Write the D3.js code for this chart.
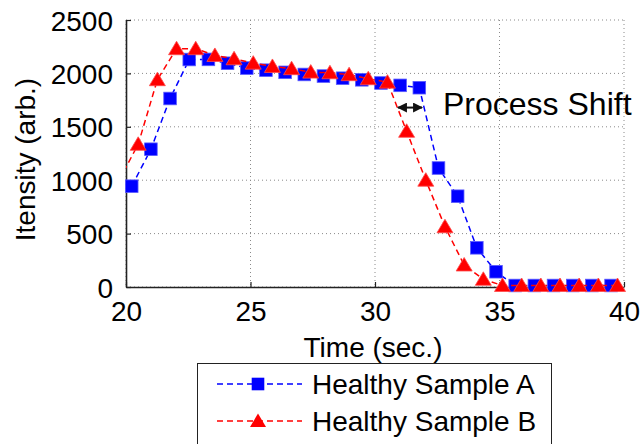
<!DOCTYPE html>
<html>
<head>
<meta charset="utf-8">
<script src="https://cdn.jsdelivr.net/npm/d3@7"></script>
<style>
  body { margin: 0; background: #fff; }
  text { font-family: "Liberation Sans", Arial, sans-serif; }
</style>
</head>
<body>
<svg width="642" height="444"></svg>
<script>
// values
const timeA = [20.23, 21.00, 21.77, 22.54, 23.31, 24.08, 24.85, 25.62, 26.39, 27.16, 27.93, 28.70, 29.47,
  30.24, 31.01, 31.78, 32.55, 33.32, 34.09, 34.86, 35.63, 36.40, 37.17, 37.94, 38.71, 39.48];
const sampleA = [944, 1290, 1765, 2130, 2131, 2095, 2050, 2030, 2010, 1990, 1975, 1955, 1940,
  1910, 1888, 1866, 1114, 850, 367, 143, 14, 14, 14, 14, 14, 14];

const timeB = [19.72, 20.49, 21.26, 22.03, 22.80, 23.57, 24.34, 25.11, 25.88, 26.65, 27.42, 28.19, 28.96,
  29.73, 30.50, 31.27, 32.04, 32.81, 33.58, 34.35, 35.12, 35.89, 36.66, 37.43, 38.20, 38.97, 39.74];
const sampleB = [1000, 1336, 1941, 2231, 2231, 2168, 2137, 2096, 2065, 2044, 2012, 2006, 1988,
  1950, 1918, 1458, 1000, 564, 206, 72, 14, 14, 14, 14, 14, 14, 14];

const xTicks = [20, 25, 30, 35, 40];
const yTicks = [0, 500, 1000, 1500, 2000, 2500];
const seriesNames = ["Healthy Sample A", "Healthy Sample B"];
const shiftArrow = [30.92, 31.89]; // time span of the "Process Shift" arrow
const shiftLevel = 1680;

const svg = d3.select("svg"),
    margin = {top: 20, right: 18, bottom: 157, left: 126},
    width = +svg.attr("width") - margin.left - margin.right,
    height = +svg.attr("height") - margin.top - margin.bottom,
    g = svg.append("g").attr("transform", "translate(" + margin.left + "," + margin.top + ")");

const x = d3.scaleLinear().domain([20, 40]).range([0, width]);
const y = d3.scaleLinear().domain([0, 2500]).range([height, 0]);

// dotted grid
g.append("g").selectAll("line").data(xTicks).enter().append("line")
    .attr("x1", d => x(d)).attr("x2", d => x(d))
    .attr("y1", 0).attr("y2", height)
    .attr("stroke", "#8a8a8a").attr("stroke-width", 1).attr("stroke-dasharray", "1,3");
g.append("g").selectAll("line").data(yTicks).enter().append("line")
    .attr("y1", d => y(d)).attr("y2", d => y(d))
    .attr("x1", 0).attr("x2", width)
    .attr("stroke", "#8a8a8a").attr("stroke-width", 1).attr("stroke-dasharray", "1,3");

// axes (inward ticks)
const xAxis = g.append("g")
    .attr("transform", "translate(0," + height + ")")
    .call(d3.axisBottom(x).tickValues(xTicks).tickFormat(d3.format("d"))
      .tickSizeInner(-5).tickSizeOuter(0).tickPadding(14));
const yAxis = g.append("g")
    .call(d3.axisLeft(y).tickValues(yTicks).tickFormat(d3.format("d"))
      .tickSizeInner(-5).tickSizeOuter(0).tickPadding(13));
[xAxis, yAxis].forEach(a => {
  a.select(".domain").attr("stroke", "#222").attr("stroke-width", 1.6);
  a.selectAll(".tick line").attr("stroke", "#222").attr("stroke-width", 1.2);
  a.selectAll(".tick text").attr("font-size", 28).attr("fill", "#000")
    .style("font-family", "'Liberation Sans', Arial, sans-serif");
});
xAxis.selectAll(".tick text").attr("dy", "0.71em");
yAxis.selectAll(".tick text").attr("dy", "0.36em");

// labels
svg.append("text")
    .attr("x", margin.left + width / 2 - 2).attr("y", 357)
    .attr("text-anchor", "middle").attr("font-size", 28)
    .text("Time (sec.)");
svg.append("text")
    .attr("transform", "translate(35," + (margin.top + height / 2 + 6) + ") rotate(-90)")
    .attr("text-anchor", "middle").attr("font-size", 28)
    .text("Itensity (arb.)");

// series
g.append("clipPath").attr("id", "plot")
  .append("rect").attr("width", width).attr("height", height);

const dataA = timeA.map((t, i) => ({t: t, v: sampleA[i]}));
const dataB = timeB.map((t, i) => ({t: t, v: sampleB[i]}));

const line = d3.line().x(d => x(d.t)).y(d => y(d.v));

const triangle = "M0,-7.5L8,6L-8,6Z";

function drawSeries(data, color, marker) {
  g.append("path").datum(data)
      .attr("clip-path", "url(#plot)")
      .attr("fill", "none").attr("stroke", color)
      .attr("stroke-width", 1.5).attr("stroke-dasharray", "6,4")
      .attr("d", line);
  const inside = data.filter(d => d.t >= 20 && d.t <= 40);
  if (marker === "square") {
    g.append("g").selectAll("rect").data(inside).enter().append("rect")
        .attr("x", d => x(d.t) - 6.3).attr("y", d => y(d.v) - 6.3)
        .attr("width", 12.6).attr("height", 12.6)
        .attr("fill", color).attr("stroke", "#5a5aff").attr("stroke-width", 0.8);
  } else {
    g.append("g").selectAll("path").data(inside).enter().append("path")
        .attr("transform", d => "translate(" + x(d.t) + "," + y(d.v) + ")")
        .attr("d", triangle)
        .attr("fill", color).attr("stroke", "#ff4a4a").attr("stroke-width", 0.8);
  }
}
drawSeries(dataA, "#0000ff", "square");
drawSeries(dataB, "#ff0000", "triangle");

// process shift annotation
const ay = y(shiftLevel);
g.append("defs").html(
  '<marker id="ah" viewBox="0 0 10 10" refX="9" refY="5" markerWidth="5" markerHeight="5" orient="auto-start-reverse">' +
  '<path d="M0,0L10,5L0,10Z" fill="#111"/></marker>');
g.append("line")
    .attr("x1", x(shiftArrow[0])).attr("x2", x(shiftArrow[1]))
    .attr("y1", ay).attr("y2", ay)
    .attr("stroke", "#111").attr("stroke-width", 2)
    .attr("marker-start", "url(#ah)").attr("marker-end", "url(#ah)");
svg.append("text")
    .attr("x", 443).attr("y", 115)
    .attr("font-size", 32)
    .text("Process Shift");

// legend
const legend = svg.append("g");
legend.append("rect")
    .attr("x", 197.5).attr("y", 363.5).attr("width", 354).attr("height", 90)
    .attr("fill", "#fff").attr("stroke", "#222").attr("stroke-width", 1);
const rows = [
  {name: seriesNames[0], color: "#0000ff", marker: "square", y: 384},
  {name: seriesNames[1], color: "#ff0000", marker: "triangle", y: 421}
];
rows.forEach(r => {
  legend.append("line")
      .attr("x1", 217).attr("x2", 302).attr("y1", r.y).attr("y2", r.y)
      .attr("stroke", r.color).attr("stroke-width", 1.5).attr("stroke-dasharray", "6,4");
  if (r.marker === "square") {
    legend.append("rect").attr("x", 258 - 6.3).attr("y", r.y - 6.3)
        .attr("width", 12.6).attr("height", 12.6).attr("fill", r.color);
  } else {
    legend.append("path").attr("transform", "translate(258," + r.y + ")")
        .attr("d", triangle).attr("fill", r.color);
  }
  legend.append("text")
      .attr("x", 312).attr("y", r.y + 10)
      .attr("font-size", 28)
      .text(r.name);
});
</script>
</body>
</html>
